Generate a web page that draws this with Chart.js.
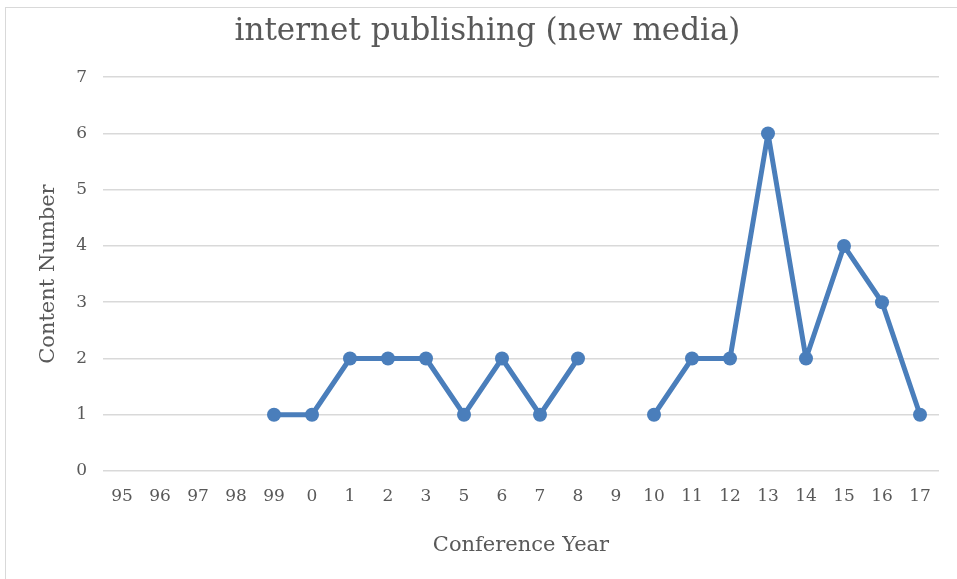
<!DOCTYPE html>
<html>
<head>
<meta charset="utf-8">
<script src="https://cdn.jsdelivr.net/npm/chart.js@4.4.1/dist/chart.umd.min.js"></script>
<style>
  html, body { margin: 0; padding: 0; background: #fff; overflow: hidden; }
  #wrap { position: relative; width: 957px; height: 579px; }
  #frame { position: absolute; left: 5px; top: 7px; width: 980px; height: 600px; border: 1px solid #d9d9d9; box-sizing: border-box; }
  canvas { position: absolute; left: 0; top: 0; }
</style>
</head>
<body>
<div id="wrap">
  <div id="frame"></div>
  <canvas id="canvas" width="957" height="579"></canvas>
</div>
<script>
let years = ['95', '96', '97', '98', '99', '0', '1', '2', '3', '5', '6', '7', '8', '9', '10', '11', '12', '13', '14', '15', '16', '17'];
let counts = [null, null, null, null, 1, 1, 2, 2, 2, 1, 2, 1, 2, null, 1, 2, 2, 6, 2, 4, 3, 1];
let yTicks = [0, 1, 2, 3, 4, 5, 6, 7];

let fontFamily = '"DejaVu Serif", "Liberation Serif", serif';
let grey = '#595959';
let blue = '#4a7ebb';

let ctx = document.getElementById('canvas').getContext('2d');
let chart = new Chart(ctx, {
  type: 'line',
  data: {
    labels: years,
    datasets: [{
      label: 'internet publishing (new media)',
      data: counts,
      borderColor: blue,
      backgroundColor: blue,
      borderWidth: 5,
      borderJoinStyle: 'round',
      pointRadius: 7,
      pointHoverRadius: 7,
      pointBackgroundColor: blue,
      pointBorderColor: blue,
      pointBorderWidth: 0,
      spanGaps: false,
      tension: 0
    }]
  },
  options: {
    responsive: false,
    animation: false,
    layout: { padding: { top: 8, left: 36, right: 18, bottom: 21 } },
    plugins: {
      legend: { display: false },
      tooltip: { enabled: false },
      title: {
        display: true,
        text: 'internet publishing (new media)',
        color: grey,
        font: { family: fontFamily, size: 31, weight: 'normal' },
        padding: { top: 5, bottom: 27 }
      }
    },
    scales: {
      x: {
        offset: true,
        grid: { display: false, drawTicks: false },
        border: { display: false },
        afterFit: function(axis) {
          axis.height = 87;
        },
        ticks: {
          color: grey,
          font: { family: fontFamily, size: 17 },
          maxRotation: 0,
          autoSkip: false,
          padding: 15
        },
        title: {
          display: true,
          text: 'Conference Year',
          color: grey,
          font: { family: fontFamily, size: 21 },
          padding: { top: 22, bottom: 0 }
        }
      },
      y: {
        min: 0,
        max: 7,
        afterBuildTicks: function(axis) {
          axis.ticks = yTicks.map(function(v) { return { value: v }; });
        },
        afterFit: function(axis) {
          axis.width = 67;
        },
        grid: { color: '#d9d9d9', lineWidth: 1.5, drawTicks: false },
        border: { display: false },
        ticks: {
          color: grey,
          font: { family: fontFamily, size: 17 },
          padding: 16
        },
        title: {
          display: true,
          text: 'Content Number',
          color: grey,
          font: { family: fontFamily, size: 21 },
          padding: { top: 0, bottom: 8 }
        }
      }
    }
  }
});
</script>
</body>
</html>
